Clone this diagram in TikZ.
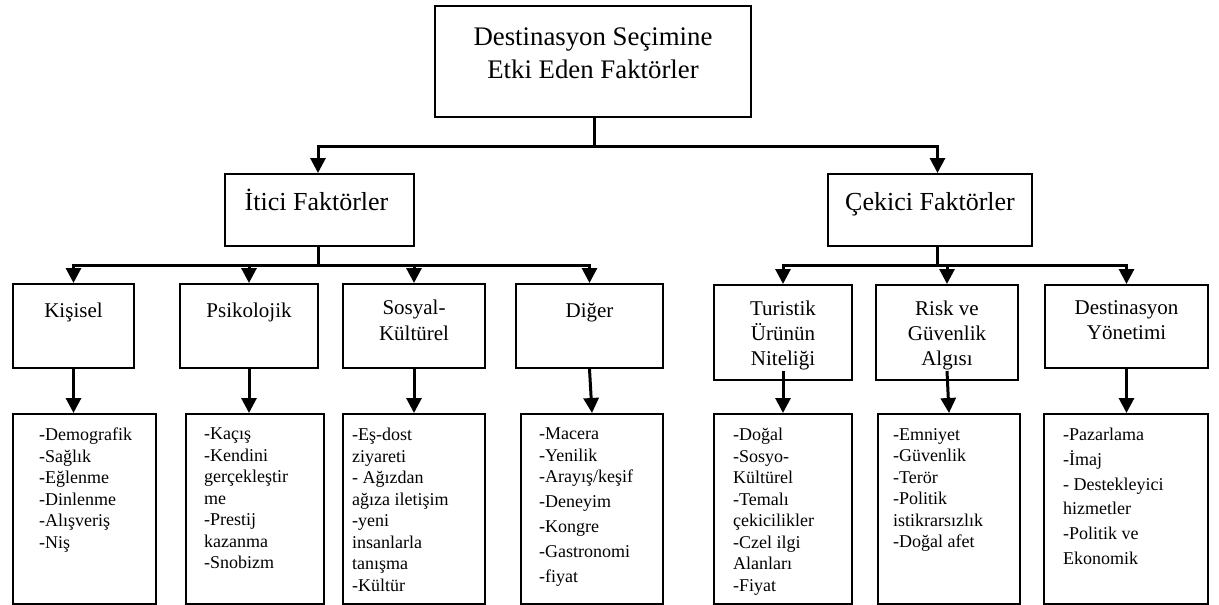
\documentclass[tikz,border=0pt]{standalone}
\usepackage{fontspec}
\setmainfont{Liberation Serif}
\usetikzlibrary{arrows.meta}
\begin{document}
\begin{tikzpicture}[
      x=1pt, y=-1pt,
      kutu/.style={
        draw,
        rectangle,
        line width=2pt,
        anchor=north west,
        inner sep=0pt
      },
      boy/.style 2 args={
        minimum width=#1pt,
        minimum height=#2pt
      },
      baslik/.style={
        anchor=north,
        inner sep=0pt,
        align=center,
        execute at begin node=\strut
      },
      liste/.style={
        anchor=north west,
        inner sep=0pt,
        align=left,
        font=\fontsize{18}{21.5}\selectfont,
        execute at begin node=\strut
      },
      hat/.style={line width=3pt},
      ok/.style={
        line width=3pt,
        -{Triangle[length=15pt,width=15pt]}
      }
    ]
    \useasboundingbox (0,0) rectangle (1219,605);

    % kutular
    \node[kutu, boy={316}{111}] (ana) at (434,5) {};
    \node[kutu, boy={189}{72}] (itici) at (224,173) {};
    \node[kutu, boy={204}{72}] (cekici) at (827,173) {};

    \node[kutu, boy={121}{84}] (kisisel) at (12,283) {};
    \node[kutu, boy={138}{84}] (psiko) at (179,283) {};
    \node[kutu, boy={142}{84}] (sosyal) at (342,283) {};
    \node[kutu, boy={147}{84}] (diger) at (515,283) {};
    \node[kutu, boy={138}{95}] (turistik) at (713,284) {};
    \node[kutu, boy={142}{95}] (risk) at (875,284) {};
    \node[kutu, boy={163}{83}] (yonetim) at (1044,284) {};

    \node[kutu, boy={143}{190}] (d1) at (12,413) {};
    \node[kutu, boy={138}{190}] (d2) at (185,413) {};
    \node[kutu, boy={142}{190}] (d3) at (342,413) {};
    \node[kutu, boy={142}{190}] (d4) at (520,413) {};
    \node[kutu, boy={138}{190}] (d5) at (713,413) {};
    \node[kutu, boy={142}{190}] (d6) at (877,413) {};
    \node[kutu, boy={164}{190}] (d7) at (1043,413) {};

    % basliklar
    \node[baslik, font=\fontsize{26.8}{33}\selectfont, yshift=-23pt] (anaT) at (ana.north)
      {Destinasyon Seçimine\\Etki Eden Faktörler};
    \node[baslik, font=\fontsize{26}{34}\selectfont, yshift=-13pt, xshift=-3pt] (iticiT) at (itici.north)
      {İtici Faktörler};
    \node[baslik, font=\fontsize{26}{34}\selectfont, yshift=-13pt] (cekiciT) at (cekici.north)
      {Çekici Faktörler};

    \node[baslik, font=\fontsize{21}{26}\selectfont, yshift=-16.5pt] (kisiselT) at (kisisel.north) {Kişisel};
    \node[baslik, font=\fontsize{21}{26}\selectfont, yshift=-16.5pt] (psikoT) at (psiko.north) {Psikolojik};
    \node[baslik, font=\fontsize{21}{26.5}\selectfont, yshift=-16.5pt] (sosyalT) at (sosyal.north) {Sosyal-\\Kültürel};
    \node[baslik, font=\fontsize{21}{26}\selectfont, yshift=-16.5pt] (digerT) at (diger.north) {Diğer};
    \node[baslik, font=\fontsize{21}{25.2}\selectfont, yshift=-16.5pt] (turistikT) at (turistik.north) {Turistik\\Ürünün\\Niteliği};
    \node[baslik, font=\fontsize{21}{25.2}\selectfont, yshift=-16.5pt] (riskT) at (risk.north) {Risk ve\\Güvenlik\\Algısı};
    \node[baslik, font=\fontsize{21}{25.2}\selectfont, yshift=-16.5pt] (yonetimT) at (yonetim.north) {Destinasyon\\Yönetimi};

    % listeler
    \node[liste, xshift=27pt, yshift=-15pt] (l1) at (d1.north west)
      {-Demografik\\-Sağlık\\-Eğlenme\\-Dinlenme\\-Alışveriş\\-Niş};
    \node[liste, xshift=19pt, yshift=-15pt] (l2) at (d2.north west)
      {-Kaçış\\-Kendini\\gerçekleştir\\me\\-Prestij\\kazanma\\-Snobizm};
    \node[liste, xshift=10pt, yshift=-15pt] (l3) at (d3.north west)
      {-Eş-dost\\ziyareti\\- Ağızdan\\ağıza iletişim\\-yeni\\insanlarla\\tanışma\\-Kültür};
    \node[liste, xshift=19pt, yshift=-15pt] (l4) at (d4.north west)
      {-Macera\\-Yenilik\\-Arayış/keşif\\[3.5pt]-Deneyim\\[3.5pt]-Kongre\\[3pt]-Gastronomi\\[3.5pt]-fiyat};
    \node[liste, xshift=20pt, yshift=-15pt] (l5) at (d5.north west)
      {-Doğal\\-Sosyo-\\Kültürel\\-Temalı\\çekicilikler\\-Czel ilgi\\Alanları\\-Fiyat};
    \node[liste, xshift=16pt, yshift=-15pt] (l6) at (d6.north west)
      {-Emniyet\\-Güvenlik\\-Terör\\-Politik\\istikrarsızlık\\-Doğal afet};
    \node[liste, xshift=20pt, yshift=-15pt] (l7) at (d7.north west)
      {-Pazarlama\\[3pt]-İmaj\\[3.5pt]- Destekleyici\\[3pt]hizmetler\\[3pt]-Politik ve\\[3.5pt]Ekonomik};

    % baglantilar
    \node[coordinate, yshift=-28pt, xshift=1pt] (catal) at (ana.south) {};
    \node[coordinate, yshift=-18pt, xshift=-1.5pt] (sol) at (itici.south) {};
    \node[coordinate, yshift=-18pt, xshift=7.5pt] (sag) at (cekici.south) {};

    \draw[hat] ([xshift=1pt]ana.south) -- (catal);
    \draw[ok] (catal) -| ([xshift=-1.5pt]itici.north);
    \draw[ok] (catal) -| ([xshift=7.5pt]cekici.north);

    \draw[hat] ([xshift=-1.5pt]itici.south) -- (sol);
    \draw[ok] (sol) -| (kisisel.north);
    \draw[ok] (sol) -| (psiko.north);
    \draw[ok] (sol) -| (sosyal.north);
    \draw[ok] (sol) -| (diger.north);

    \draw[hat] ([xshift=7.5pt]cekici.south) -- (sag);
    \draw[ok] (sag) -| (turistik.north);
    \draw[ok] (sag) -| (risk.north);
    \draw[ok] (sag) -| (yonetim.north);

    \draw[ok] (kisisel.south) -- (kisisel.south |- d1.north);
    \draw[ok] (psiko.south) -- (psiko.south |- d2.north);
    \draw[ok] (sosyal.south) -- (d3.north);
    \draw[ok] (diger.south) -- (d4.north);
    \draw[ok] ([yshift=10pt]turistik.south) -- (turistik.south |- d5.north);
    \draw[ok] ([yshift=10pt]risk.south) -- (d6.north);
    \draw[ok] (yonetim.south) -- (yonetim.south |- d7.north);

  \end{tikzpicture}
\end{document}
